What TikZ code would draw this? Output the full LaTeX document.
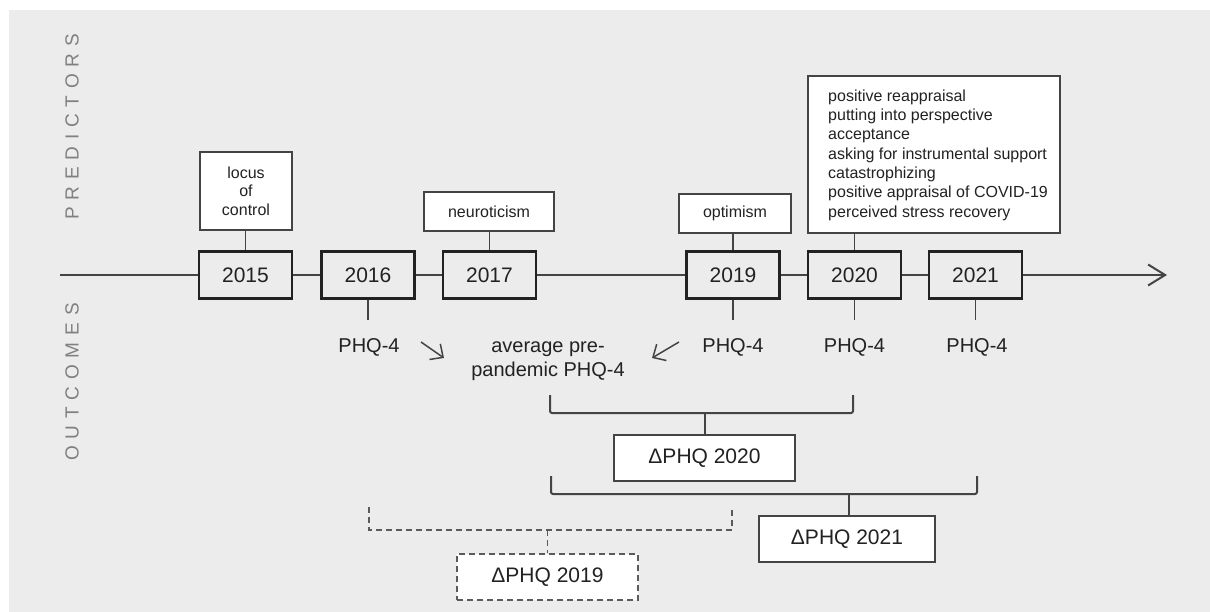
\documentclass[tikz,border=0pt]{standalone}
\usepackage{fontspec}
\setmainfont{Liberation Sans}
\newfontfamily\spacedfont[LetterSpace=36]{Liberation Sans}
\usetikzlibrary{arrows.meta}
\definecolor{bg}{HTML}{ECECEC}
\definecolor{ink}{HTML}{222222}
\definecolor{lin}{HTML}{444444}
\definecolor{side}{HTML}{808080}
\definecolor{dsh}{HTML}{5A5A5A}
\begin{document}
\begin{tikzpicture}[x=1pt,y=-1pt,
  year/.style={draw=ink, line width=2.8pt, minimum width=93pt, minimum height=47pt, inner sep=0pt,
    text=ink, font=\fontsize{21}{25}\selectfont},
  pred/.style={draw=lin, line width=1.5pt, fill=white, inner sep=0pt, text=ink,
    font=\fontsize{16}{18.5}\selectfont},
  obox/.style={draw=lin, line width=1.5pt, fill=white, minimum height=46pt, inner sep=0pt,
    text=ink, font=\fontsize{21}{25}\selectfont},
  txt/.style={text=ink, inner sep=0pt, font=\fontsize{20}{24}\selectfont},
  tline/.style={draw=lin, line width=2pt},
  conn/.style={draw=lin, line width=1.5pt},
  brk/.style={draw=lin, line width=2pt, rounded corners=2pt},
  dbrk/.style={draw=dsh, line width=1.6pt, dash pattern=on 6pt off 4pt},
  sidelab/.style={text=side, inner sep=0pt, font=\spacedfont\fontsize{19}{21}\selectfont}
]
\useasboundingbox (0,0) rectangle (1210,612);
\fill[white] (0,0) rectangle (1210,612);
\fill[bg] (9,10) rectangle (1210,612);

% side labels
\node[sidelab, rotate=90] (predlab) at (72,127) {PREDICTORS};
\node[sidelab, rotate=90] (outlab) at (72,382) {OUTCOMES};

% year boxes
\node[year] (y2015) at (245.5,275) {2015};
\node[year] (y2016) at (368,275) {2016};
\node[year] (y2017) at (489.5,275) {2017};
\node[year] (y2019) at (733,275) {2019};
\node[year] (y2020) at (854.5,275) {2020};
\node[year] (y2021) at (975.5,275) {2021};

% timeline
\coordinate (tl0) at (60,275);
\coordinate (tl1) at (1167,275);
\draw[tline] (tl0) -- (y2015);
\draw[tline] (y2015) -- (y2016);
\draw[tline] (y2016) -- (y2017);
\draw[tline] (y2017) -- (y2019);
\draw[tline] (y2019) -- (y2020);
\draw[tline] (y2020) -- (y2021);
\draw[tline, -{Straight Barb[length=17pt,width=21pt,line width=2pt]}] (y2021) -- (tl1);

% predictor boxes
\node[pred, minimum width=92pt, minimum height=78pt, align=center] (loc) at (246,191) {locus\\of\\control};
\node[pred, minimum width=130pt, minimum height=39pt] (neu) at (489,211.5) {neuroticism};
\node[pred, minimum width=112pt, minimum height=39pt] (opt) at (735,213.5) {optimism};
\node[pred, minimum width=252pt, minimum height=157pt] (cop) at (934,154.5) {};
\node[anchor=west, align=left, inner sep=0pt, text=ink, font=\fontsize{16}{19.3}\selectfont] (coptext) at (828,155)
  {positive reappraisal\\putting into perspective\\acceptance\\asking for instrumental support\\catastrophizing\\positive appraisal of COVID-19\\perceived stress recovery};

\draw[conn] (y2015.north) -- (y2015.north |- loc.south);
\draw[conn] (y2017.north) -- (y2017.north |- neu.south);
\draw[conn] (y2019.north) -- (y2019.north |- opt.south);
\draw[conn] (y2020.north) -- (y2020.north |- cop.south);

% outcomes
\coordinate (o16) at (368,320);
\coordinate (o19) at (733,320);
\coordinate (o20) at (854.5,320);
\coordinate (o21) at (975.5,320);
\draw[conn] (y2016.south) -- (o16);
\draw[conn] (y2019.south) -- (o19);
\draw[conn] (y2020.south) -- (o20);
\draw[conn] (y2021.south) -- (o21);

\node[txt] (p16) at (369,347) {PHQ-4};
\node[txt] (p19) at (733,347) {PHQ-4};
\node[txt] (p20) at (854.5,347) {PHQ-4};
\node[txt] (p21) at (977,347) {PHQ-4};
\node[txt, align=center] (avg) at (548,361) {average pre-\\pandemic PHQ-4};

\coordinate (a1s) at (421,342);
\coordinate (a1e) at (444,358);
\coordinate (a2s) at (679,342);
\coordinate (a2e) at (652,358);
\draw[conn, -{Straight Barb[length=10pt,width=19pt,line width=1.5pt]}] (a1s) -- (a1e);
\draw[conn, -{Straight Barb[length=10pt,width=19pt,line width=1.5pt]}] (a2s) -- (a2e);

% delta PHQ 2020
\node[obox, minimum width=181pt] (d20) at (704.5,458) {ΔPHQ 2020};
\coordinate (b1l) at (550,395);
\coordinate (b1r) at (853,395);
\coordinate (b1m) at (704.5,413);
\draw[brk] (b1l) -- ++(0,18) -| (b1r);
\draw[brk] (b1m) -- (d20.north);

% delta PHQ 2021
\node[obox, minimum width=176pt] (d21) at (847,539) {ΔPHQ 2021};
\coordinate (b2l) at (551,476);
\coordinate (b2r) at (977,476);
\coordinate (b2m) at (849,494);
\draw[brk] (b2l) -- ++(0,18) -| (b2r);
\draw[brk] (b2m) -- (b2m |- d21.north);

% delta PHQ 2019 (dashed)
\node[obox, draw=dsh, dash pattern=on 6pt off 4pt, minimum width=181pt] (d19) at (547.5,577) {ΔPHQ 2019};
\coordinate (b3l) at (369,507);
\coordinate (b3r) at (732,507);
\coordinate (b3m) at (547.5,530);
\draw[dbrk] (b3l) -- ++(0,23) -| (b3r);
\draw[dbrk] (b3m) -- (d19.north);
\end{tikzpicture}
\end{document}
